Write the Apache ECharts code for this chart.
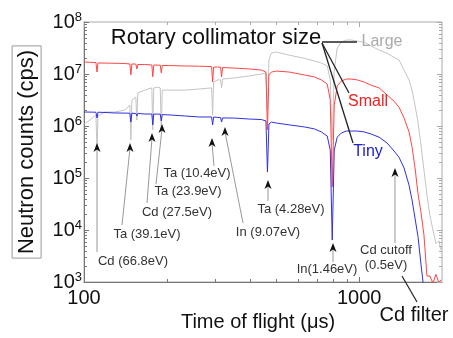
<!DOCTYPE html>
<html><head><meta charset="utf-8">
<script src="https://cdn.jsdelivr.net/npm/echarts@6/dist/echarts.min.js"></script>
<style>html,body{margin:0;padding:0;background:#fff}#c{width:453px;height:338px}</style>
</head><body><div id="c"></div>
<script>
// Time of flight (µs), shared by all three curves
const tof = [100,105.1,110.5,111.5,112.4,119.2,129.5,140.8,146.8,148.0,149.3,154.3,155.6,156.9,166.4,176.4,177.8,179.3,185.4,189.3,190.9,192.5,205.0,232.2,263.2,290.9,293.4,295.8,305.9,313.6,316.2,318.9,352.5,399.4,441.6,458.4,464.2,470.0,479.9,500.4,557.8,632.0,687.1,728.4,765.6,785.0,798.2,811.7,832.3,860.5,897.1,935.4,983.5,1042.6,1105.2,1181.6,1263.3,1339.2,1396.2,1455.7,1517.7,1556.1,1595.5,1635.9,1677.3,1719.8,1763.3,1808.0,1853.7,1900.7,1948.8,1981.5];
// Neutron counts (cps)
const large = [1.09e6,1.30e6,1.63e6,3.45e5,1.56e6,1.86e6,1.86e6,2.03e6,2.53e6,5.4e5,3.16e6,3.6e6,1.30e6,4.3e6,4.9e6,5.4e6,8.4e5,5.4e6,5.6e6,5.4e6,8.4e5,4.9e6,4.9e6,4.9e6,5.15e6,5.4e6,1.63e6,7.0e6,7.7e6,7.7e6,5.4e6,8.0e6,8.4e6,9.2e6,1.0e7,1.05e7,2.0e6,1.86e7,2.53e7,2.65e7,2.3e7,2.0e7,1.78e7,1.63e7,1.43e7,7.7e6,5.4e5,1.19e7,3.16e7,4.1e7,4.5e7,4.5e7,4.3e7,4.1e7,3.45e7,2.9e7,2.5e7,2.1e7,1.86e7,1.19e7,7.7e6,4.9e6,2.5e6,1.19e6,4.3e5,1.43e5,4.7e4,1.9e4,1.0e4,5.5e3,6.2e3,4.1e3];
const small = [1.70e7,1.68e7,1.66e7,1.09e7,1.63e7,1.62e7,1.61e7,1.59e7,1.56e7,9.6e6,1.56e7,1.55e7,1.25e7,1.52e7,1.52e7,1.49e7,8.8e6,1.49e7,1.48e7,1.48e7,1.05e7,1.46e7,1.45e7,1.43e7,1.41e7,1.39e7,7.0e6,1.36e7,1.36e7,1.35e7,8.8e6,1.33e7,1.30e7,1.25e7,1.19e7,1.09e7,8.4e5,9.6e6,1.09e7,1.14e7,1.09e7,9.6e6,8.8e6,7.7e6,6.4e6,3.2e6,6.7e4,2.5e6,5.9e6,7.3e6,8.0e6,8.0e6,7.7e6,7.0e6,6.1e6,5.4e6,3.95e6,3.0e6,2.3e6,1.43e6,7.7e5,4.0e5,1.6e5,5.0e4,2.2e4,8.0e3,1.3e3,1.3e3,950,1.4e3,960,1.1e3];
const tiny = [1.86e6,1.85e6,1.84e6,1.43e6,1.84e6,1.82e6,1.78e6,1.77e6,1.76e6,1.19e6,1.76e6,1.74e6,1.56e6,1.74e6,1.70e6,1.70e6,1.05e6,1.70e6,1.69e6,1.69e6,1.25e6,1.66e6,1.63e6,1.56e6,1.49e6,1.49e6,1.05e6,1.49e6,1.46e6,1.46e6,1.19e6,1.43e6,1.42e6,1.36e6,1.33e6,1.25e6,1.30e5,1.09e6,1.19e6,1.14e6,1.05e6,9.6e5,8.8e5,7.7e5,6.4e5,3.45e5,6.4e3,3.45e5,6.1e5,7.3e5,8.0e5,8.0e5,8.0e5,7.7e5,7.0e5,6.1e5,4.7e5,3.3e5,2.5e5,1.56e5,7.3e4,3.8e4,1.7e4,7.5e3,2.2e3,700,500,400,400,400,400,400];
// Axis ticks
const xMajorTicks = [100, 1000];
const xMinorTicks = [200,300,400,500,600,700,800,900];
const yMajorTicks = [1e3,1e4,1e5,1e6,1e7,1e8];
const yMinorTicks = [2e3,3e3,4e3,5e3,6e3,7e3,8e3,9e3,2e4,3e4,4e4,5e4,6e4,7e4,8e4,9e4,2e5,3e5,4e5,5e5,6e5,7e5,8e5,9e5,2e6,3e6,4e6,5e6,6e6,7e6,8e6,9e6,2e7,3e7,4e7,5e7,6e7,7e7,8e7,9e7];
const X_MIN = 100, X_MAX = 2000, Y_MIN = 1e3, Y_MAX = 1e8;
// Annotations: label text, label centre, arrow tip, line start (pixels)
const notes = [
  ['Cd (66.8eV)', 133, 261, 97, 143, 97, 252],
  ['Ta (39.1eV)', 147, 234, 130, 143, 122, 225],
  ['Cd (27.5eV)', 177, 212, 152, 133, 147, 203],
  ['Ta (23.9eV)', 188, 191, 162, 124, 156, 184],
  ['Ta (10.4eV)', 197, 173, 212, 138, 214, 166],
  ['In (9.07eV)', 268, 232, 225, 127, 243, 223],
  ['Ta (4.28eV)', 291, 209, 268, 180, 268, 201],
  ['In(1.46eV)', 327, 269, 333, 243, 333, 262],
  ['Cd cutoff\n(0.5eV)', 386, 258, 395, 168, 395, 243]
];

const FONT = 'Liberation Sans, Arial, sans-serif';
const chart = echarts.init(document.getElementById('c'), null, {renderer: 'canvas'});

function pair(ys) { return tof.map((t, i) => [t, ys[i]]); }

function tickSeries(vals, dir, len) {
  return {
    type: 'custom', silent: true, clip: false, z: 10, animation: false,
    data: vals.map(v => dir === 'x' ? [v, 1e5] : [150, v]),
    encode: {x: 0, y: 1},
    renderItem: (params, api) => {
      const v = api.value(dir === 'x' ? 0 : 1);
      const st = {stroke: '#777', lineWidth: 1};
      if (dir === 'x') {
        const b = api.coord([v, Y_MIN]), t = api.coord([v, Y_MAX]);
        const x = Math.round(b[0]) + 0.5;
        return {type: 'group', children: [
          {type: 'line', shape: {x1: x, y1: b[1], x2: x, y2: b[1] - len}, style: st},
          {type: 'line', shape: {x1: x, y1: t[1], x2: x, y2: t[1] + len}, style: {stroke: '#aaa', lineWidth: 1}}
        ]};
      } else {
        const l = api.coord([X_MIN, v]), r = api.coord([X_MAX, v]);
        const y = Math.round(l[1]) + 0.5;
        return {type: 'group', children: [
          {type: 'line', shape: {x1: l[0], y1: y, x2: l[0] + len, y2: y}, style: st},
          {type: 'line', shape: {x1: r[0], y1: y, x2: r[0] - len, y2: y}, style: {stroke: '#aaa', lineWidth: 1}}
        ]};
      }
    }
  };
}

const graphics = [];
graphics.push({type: 'text', z: 30, style: {text: 'Rotary collimator size', x: 216, y: 38, align: 'center', verticalAlign: 'middle', font: '22px ' + FONT, fill: '#111'}});
graphics.push({type: 'line', z: 30, shape: {x1: 322, y1: 42, x2: 357, y2: 42}, style: {stroke: '#222', lineWidth: 1.3}});
graphics.push({type: 'line', z: 30, shape: {x1: 322, y1: 43, x2: 349, y2: 93}, style: {stroke: '#222', lineWidth: 1.3}});
graphics.push({type: 'line', z: 30, shape: {x1: 322, y1: 43, x2: 353, y2: 143}, style: {stroke: '#222', lineWidth: 1.3}});
graphics.push({type: 'text', z: 30, style: {text: 'Large', x: 382, y: 42, align: 'center', verticalAlign: 'middle', font: '16px ' + FONT, fill: '#aaaaaa'}});
graphics.push({type: 'text', z: 30, style: {text: 'Small', x: 368, y: 102, align: 'center', verticalAlign: 'middle', font: '16px ' + FONT, fill: '#ee2020'}});
graphics.push({type: 'text', z: 30, style: {text: 'Tiny', x: 368, y: 152, align: 'center', verticalAlign: 'middle', font: '16px ' + FONT, fill: '#2020cc'}});
notes.forEach(n => {
  const [txt, tx, ty, ax, ay, lx, ly] = n;
  graphics.push({type: 'line', z: 20, shape: {x1: lx, y1: ly, x2: ax, y2: ay + 5}, style: {stroke: '#999', lineWidth: 1}});
  graphics.push({type: 'polygon', z: 21, shape: {points: [[ax, ay], [ax - 3.5, ay + 9], [ax, ay + 6.5], [ax + 3.5, ay + 9]]}, style: {fill: '#111'}});
  graphics.push({type: 'text', z: 21, style: {text: txt, x: tx, y: ty, align: 'center', verticalAlign: 'middle', font: '13px ' + FONT, fill: '#333', lineHeight: 15}});
});
graphics.push({type: 'line', z: 30, shape: {x1: 402, y1: 276, x2: 417, y2: 302}, style: {stroke: '#222', lineWidth: 1.2}});
graphics.push({type: 'text', z: 30, style: {text: 'Cd filter', x: 414, y: 315, align: 'center', verticalAlign: 'middle', font: '20px ' + FONT, fill: '#111'}});

chart.setOption({
  animation: false,
  backgroundColor: '#fff',
  textStyle: {fontFamily: FONT},
  grid: {left: 84, top: 22, width: 358, height: 260, show: true, borderColor: '#aaa', borderWidth: 1, containLabel: false, outerBoundsMode: 'none'},
  xAxis: {
    type: 'log', logBase: 10, min: X_MIN, max: X_MAX,
    name: 'Time of flight (μs)', nameLocation: 'middle', nameGap: 30,
    nameTextStyle: {fontSize: 20, color: '#111', fontFamily: FONT, padding: [0, 10, 0, 0]},
    axisLine: {show: true, lineStyle: {color: '#777', width: 1}},
    axisTick: {show: false}, splitLine: {show: false},
    axisLabel: {fontSize: 20, color: '#111', margin: 6, showMaxLabel: false,
      formatter: v => { const e = Math.log10(v); return Math.abs(e - Math.round(e)) < 1e-6 ? String(Math.round(v)) : ''; }}
  },
  yAxis: {
    type: 'log', logBase: 10, min: Y_MIN, max: Y_MAX,
    name: 'Neutron counts (cps)', nameLocation: 'middle', nameGap: 38, nameRotate: 90,
    nameTextStyle: {fontSize: 22, color: '#111', fontFamily: FONT, borderColor: '#999', borderWidth: 1, padding: [4, 4, 3, 4]},
    axisLine: {show: true, lineStyle: {color: '#777', width: 1}},
    axisTick: {show: false}, splitLine: {show: false},
    axisLabel: {margin: 2, color: '#111',
      formatter: v => '{b|10}{e|' + Math.round(Math.log10(v)) + '}',
      rich: {b: {fontSize: 20, fontFamily: FONT, color: '#111'}, e: {fontSize: 13, fontFamily: FONT, color: '#111', padding: [0, 0, 10, 0]}}}
  },
  series: [
    {name: 'Large', type: 'line', data: pair(large), showSymbol: false, symbol: 'none', lineStyle: {color: '#c4c4c4', width: 1}, z: 2},
    {name: 'Small', type: 'line', data: pair(small), showSymbol: false, symbol: 'none', lineStyle: {color: '#ff4545', width: 1}, z: 3},
    {name: 'Tiny', type: 'line', data: pair(tiny), showSymbol: false, symbol: 'none', lineStyle: {color: '#3030e0', width: 1}, z: 4},
    tickSeries(xMajorTicks, 'x', 5),
    tickSeries(xMinorTicks, 'x', 3),
    tickSeries(yMajorTicks, 'y', 5),
    tickSeries(yMinorTicks, 'y', 3)
  ],
  graphic: graphics
});
</script></body></html>
